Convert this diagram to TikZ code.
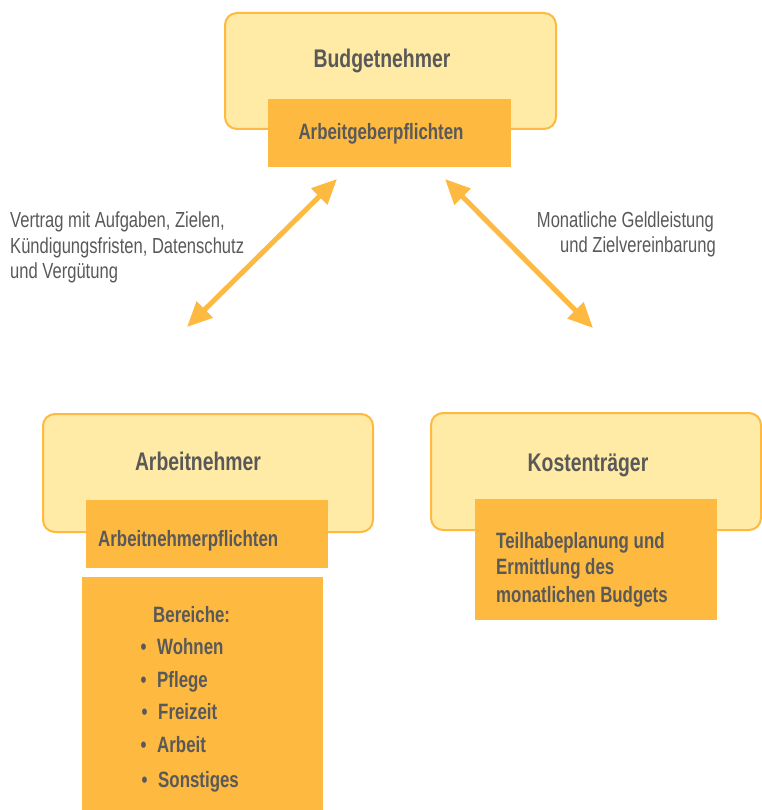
\documentclass[tikz,border=0pt]{standalone}
\usepackage{fontspec}
\setmainfont{Liberation Sans}[FakeStretch=0.76]
\usetikzlibrary{arrows.meta}
\definecolor{boxfill}{RGB}{255,235,165}
\definecolor{org}{RGB}{253,185,64}
\definecolor{txt}{RGB}{89,89,89}
\begin{document}
\begin{tikzpicture}[x=1pt,y=-1pt,
  outerbox/.style={draw=org,line width=2pt,fill=boxfill,rounded corners=12pt,inner sep=0pt,anchor=north west},
  innerbox/.style={fill=org,draw=none,inner sep=0pt,anchor=north west},
  head/.style={font=\bfseries\fontsize{25.5}{30}\selectfont,text=txt,inner sep=0pt,anchor=base},
  sub/.style={font=\bfseries\fontsize{22.2}{27}\selectfont,text=txt,inner sep=0pt},
  plain/.style={font=\fontsize{21.8}{25}\selectfont,text=txt,inner sep=0pt},
  arr/.style={draw=org,line width=5pt,{Triangle[length=25pt,width=22pt]}-{Triangle[length=25pt,width=22pt]}}]
\useasboundingbox (0,0) rectangle (761,810);

% Budgetnehmer
\node[outerbox,minimum width=331pt,minimum height=116pt] (bn) at (224,12) {};
\node[innerbox,minimum width=243pt,minimum height=68pt] (agp) at (268,99) {};
\node[head] (bnt) at (382,68) {Budgetnehmer};
\node[sub,anchor=base] (agpt) at (381,140) {Arbeitgeberpflichten};

% Arbeitnehmer
\node[outerbox,minimum width=330pt,minimum height=118pt] (an) at (42,413) {};
\node[innerbox,minimum width=242pt,minimum height=68pt] (anp) at (86,500) {};
\node[innerbox,minimum width=241pt,minimum height=233pt] (ber) at (82,577) {};
\node[head] (ant) at (198,470) {Arbeitnehmer};
\node[sub,anchor=base west] (anpt) at (98,546) {Arbeitnehmerpflichten};
\node[sub,anchor=base west] (bert) at (153,622) {Bereiche:};
\node[sub,anchor=base] (b1) at (143.5,654) {•};
\node[sub,anchor=base west] (i1) at (157,654) {Wohnen};
\node[sub,anchor=base] (b2) at (143.5,687) {•};
\node[sub,anchor=base west] (i2) at (157,687) {Pflege};
\node[sub,anchor=base] (b3) at (144.5,719) {•};
\node[sub,anchor=base west] (i3) at (158,719) {Freizeit};
\node[sub,anchor=base] (b4) at (143.5,752) {•};
\node[sub,anchor=base west] (i4) at (157,752) {Arbeit};
\node[sub,anchor=base] (b5) at (144.5,787) {•};
\node[sub,anchor=base west] (i5) at (158,787) {Sonstiges};

% Kostentraeger
\node[outerbox,minimum width=330pt,minimum height=117pt] (kt) at (430,412) {};
\node[innerbox,minimum width=242pt,minimum height=121pt] (tp) at (475,499) {};
\node[head] (ktt) at (588,471) {Kostenträger};
\node[sub,anchor=base west] (tp1) at (496,548) {Teilhabeplanung und};
\node[sub,anchor=base west] (tp2) at (496,574) {Ermittlung des};
\node[sub,anchor=base west] (tp3) at (496,602) {monatlichen Budgets};

% Arrows
\coordinate (l1) at (337,179);
\coordinate (l2) at (187,327);
\coordinate (r1) at (445,179);
\coordinate (r2) at (593,328);
\draw[arr] (l1) -- (l2);
\draw[arr] (r1) -- (r2);

% Labels
\node[plain,anchor=base west] (lt1) at (10,228) {Vertrag mit Aufgaben, Zielen,};
\node[plain,anchor=base west] (lt2) at (10,253) {Kündigungsfristen, Datenschutz};
\node[plain,anchor=base west] (lt3) at (10,278) {und Vergütung};
\node[plain,anchor=base east] (rt1) at (714,227) {Monatliche Geldleistung};
\node[plain,anchor=base east] (rt2) at (716,252) {und Zielvereinbarung};
\end{tikzpicture}
\end{document}
